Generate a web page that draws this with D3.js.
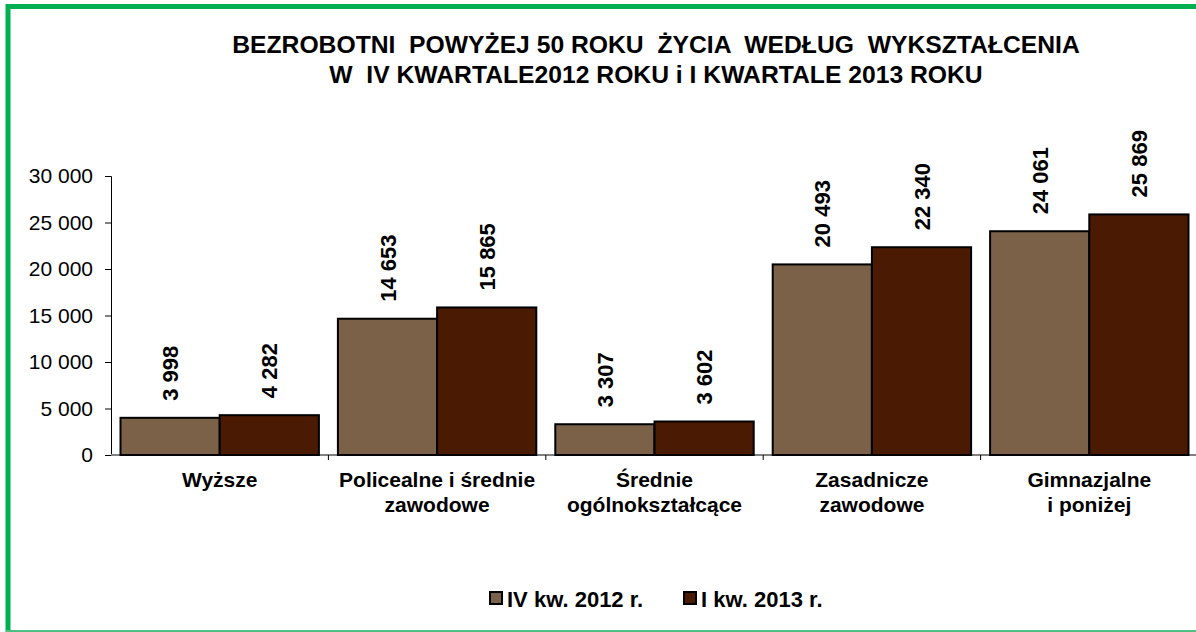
<!DOCTYPE html>
<html>
<head>
<meta charset="utf-8">
<script src="https://cdn.jsdelivr.net/npm/d3@7"></script>
<style>
  body { margin: 0; background: #fff; overflow: hidden; }
  svg { display: block; }
  svg text { font-family: "Liberation Sans", Arial, sans-serif; fill: #000; }
</style>
</head>
<body>
<div id="chart"></div>
<script>
var width = 1196;
var height = 632;

// data
var categories = ["Wyższe", "Policealne i średnie zawodowe", "Średnie ogólnokształcące", "Zasadnicze zawodowe", "Gimnazjalne i poniżej"];
var categoryLines = [["Wyższe"], ["Policealne i średnie", "zawodowe"], ["Średnie", "ogólnokształcące"], ["Zasadnicze", "zawodowe"], ["Gimnazjalne", "i poniżej"]];
var seriesNames = ["IV kw. 2012 r.", "I kw. 2013 r."];
var q4_2012 = [3998, 14653, 3307, 20493, 24061];
var q1_2013 = [4282, 15865, 3602, 22340, 25869];
var yTicks = [0, 5000, 10000, 15000, 20000, 25000, 30000];
var titleLines = ["BEZROBOTNI  POWYŻEJ 50 ROKU  ŻYCIA  WEDŁUG  WYKSZTAŁCENIA", "W  IV KWARTALE2012 ROKU i I KWARTALE 2013 ROKU"];

var colors = ["#7a6148", "#4a1a03"];
var seriesValues = [q4_2012, q1_2013];

var fmt = d3.formatLocale({decimal: ",", thousands: "\u00a0", grouping: [3], currency: ["", ""]}).format(",d");

var svg = d3.select("#chart")
    .append("svg")
    .attr("width", width)
    .attr("height", height);

// green frame (open on the right, like the source)
var frame = svg.append("g").attr("fill", "none");
frame.append("line")
    .attr("x1", 6).attr("x2", width)
    .attr("y1", 6.5).attr("y2", 6.5)
    .attr("stroke", "#00b050").attr("stroke-width", 5);
frame.append("line")
    .attr("x1", 8).attr("x2", 8)
    .attr("y1", 4).attr("y2", 632)
    .attr("stroke", "#00b050").attr("stroke-width", 5);
frame.append("line")
    .attr("x1", 6).attr("x2", width)
    .attr("y1", 631).attr("y2", 631)
    .attr("stroke", "#4cc080").attr("stroke-width", 2);

// title
svg.append("text")
    .attr("text-anchor", "middle")
    .style("font-size", "24.7px")
    .style("font-weight", "bold")
    .style("white-space", "pre")
    .selectAll("tspan")
    .data(titleLines)
    .enter()
    .append("tspan")
    .attr("x", 656)
    .attr("y", function(d, i) { return 53 + i * 30; })
    .text(function(d) { return d; });

var x0 = d3.scaleBand()
    .domain(categories)
    .range([111, 1198]);

var x1 = d3.scaleBand()
    .domain([0, 1])
    .range([9.5, x0.bandwidth() - 9.5]);

var y = d3.scaleLinear()
    .domain([0, 30000])
    .range([455, 176]);

// y axis
var yAxis = svg.append("g")
    .attr("transform", "translate(111,0)")
    .call(d3.axisLeft(y).tickValues(yTicks).tickSize(6).tickPadding(12).tickFormat(fmt));
yAxis.selectAll("text").style("font-size", "21px");
yAxis.selectAll("line, path").attr("stroke", "#000");

// x axis
var xAxis = svg.append("g")
    .attr("transform", "translate(0,455)");
xAxis.append("line")
    .attr("x1", 111).attr("x2", 1198)
    .attr("y1", 0).attr("y2", 0)
    .attr("stroke", "#808080")
    .attr("stroke-width", 2);
xAxis.selectAll(".xtick")
    .data(categories.slice(1))
    .enter()
    .append("line")
    .attr("x1", function(d) { return x0(d); })
    .attr("x2", function(d) { return x0(d); })
    .attr("y1", 0).attr("y2", 5)
    .attr("stroke", "#000");

// bars
var groups = svg.selectAll(".grp")
    .data(categories)
    .enter()
    .append("g")
    .attr("transform", function(d) { return "translate(" + x0(d) + ",0)"; });

groups.selectAll("rect")
    .data(function(d, i) { return [0, 1].map(function(s) { return {s: s, v: seriesValues[s][i]}; }); })
    .enter()
    .append("rect")
    .attr("x", function(d) { return x1(d.s); })
    .attr("width", x1.bandwidth())
    .attr("y", function(d) { return y(d.v); })
    .attr("height", function(d) { return y(0) - y(d.v); })
    .attr("fill", function(d) { return colors[d.s]; })
    .attr("stroke", "#000")
    .attr("stroke-width", 2);

// value labels, rotated
groups.selectAll(".val")
    .data(function(d, i) { return [0, 1].map(function(s) { return {s: s, v: seriesValues[s][i]}; }); })
    .enter()
    .append("text")
    .attr("transform", function(d) {
        var cx = x1(d.s) + x1.bandwidth() / 2 + 8;
        return "translate(" + cx + "," + (y(d.v) - 17) + ") rotate(-90)";
    })
    .style("font-size", "22px")
    .style("font-weight", "bold")
    .text(function(d) { return fmt(d.v); });

// category labels
groups.append("text")
    .attr("text-anchor", "middle")
    .style("font-size", "21px")
    .style("font-weight", "bold")
    .selectAll("tspan")
    .data(function(d, i) { return categoryLines[i]; })
    .enter()
    .append("tspan")
    .attr("x", x0.bandwidth() / 2)
    .attr("y", function(d, i) { return 487 + i * 25; })
    .text(function(d) { return d; });

// legend
var legendX = [490, 684];
var legend = svg.selectAll(".leg")
    .data(seriesNames)
    .enter()
    .append("g")
    .attr("transform", function(d, i) { return "translate(" + legendX[i] + ",592)"; });
legend.append("rect")
    .attr("width", 12).attr("height", 12)
    .attr("fill", function(d, i) { return colors[i]; })
    .attr("stroke", "#000")
    .attr("stroke-width", 2);
legend.append("text")
    .attr("x", 17)
    .attr("y", 14.5)
    .style("font-size", "22px")
    .style("font-weight", "bold")
    .text(function(d) { return d; });
</script>
</body>
</html>
